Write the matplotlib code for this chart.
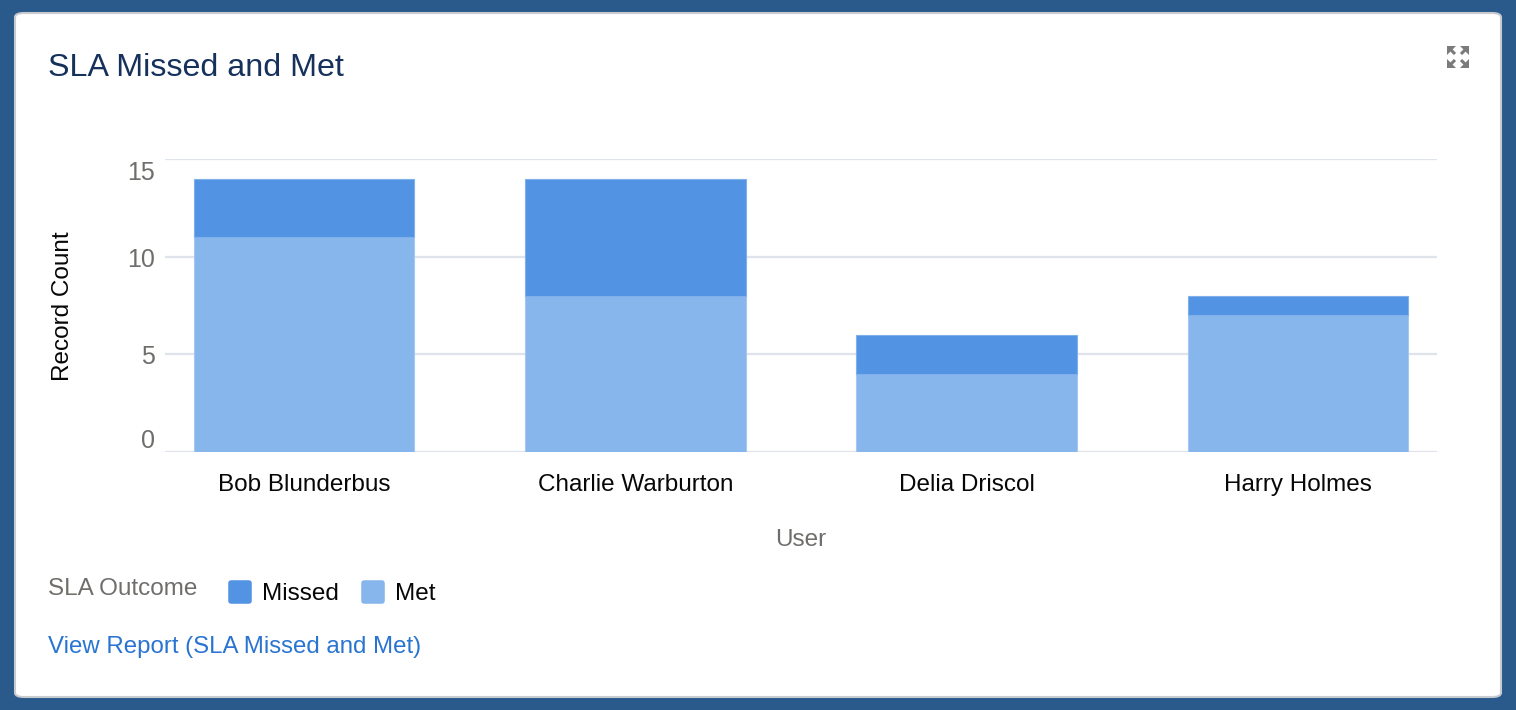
import matplotlib.pyplot as plt
import numpy as np
from matplotlib.patches import FancyBboxPatch, Polygon
from matplotlib.lines import Line2D
from matplotlib.markers import MarkerStyle
from matplotlib.transforms import ScaledTranslation

plt.rcParams['font.family'] = ['Liberation Sans', 'DejaVu Sans']

users = ['Bob Blunderbus', 'Charlie Warburton', 'Delia Driscol', 'Harry Holmes']
met = [11, 8, 4, 7]
missed = [3, 6, 2, 1]
y_ticks = [0, 5, 10, 15]

W, H = 1516, 710
fig = plt.figure(figsize=(W / 100, H / 100), dpi=100)
fig.patch.set_facecolor('#295a8b')


def fx(px):
    return px / W


def fy(py):
    return 1 - py / H


# white card
card = FancyBboxPatch((fx(15), fy(697)), fx(1501) - fx(15), fy(13) - fy(697),
                      boxstyle='round,pad=0,rounding_size=0.006',
                      transform=fig.transFigure, facecolor='white',
                      edgecolor='#c8cbd0', linewidth=1.5, zorder=0)
fig.add_artist(card)

ax = fig.add_axes([fx(165), fy(452), fx(1437) - fx(165), fy(159) - fy(452)])
ax.set_facecolor('none')

c_missed = '#5294e3'
c_met = '#87b6ec'
x = np.arange(len(users))
ax.bar(x, met, width=0.665, color=c_met, edgecolor='#a4c8f2', linewidth=0.8, zorder=2)
ax.bar(x, missed, bottom=met, width=0.665, color=c_missed, edgecolor='#7fb0ec',
       linewidth=0.8, zorder=2)

ax.set_xlim(-0.42, len(users) - 1 + 0.42)
ax.set_ylim(0, 15)
ax.set_yticks(y_ticks)
ax.set_yticklabels([str(v) for v in y_ticks])
ax.set_xticks(x)
ax.set_xticklabels(users)
ax.grid(axis='y', color='#dfe3ec', linewidth=1.6, zorder=0)
ax.set_axisbelow(True)
for s in ax.spines.values():
    s.set_visible(False)
ax.tick_params(axis='x', length=0, pad=15.5, labelsize=17.5, labelcolor='#080707')
ax.tick_params(axis='y', length=0, pad=7, labelsize=18, labelcolor='#706e6b')

# the y labels sit squeezed toward the middle, like the original
shifts = [13, 0, -1, -12]
for lab, dy in zip(ax.get_yticklabels(), shifts):
    lab.set_transform(lab.get_transform() + ScaledTranslation(0, dy / 100, fig.dpi_scale_trans))

fig.text(fx(63), fy(306), 'Record Count', rotation=90, ha='center', va='center',
         fontsize=17.5, color='#080707')
fig.text(fx(801), fy(540), 'User', ha='center', va='center', fontsize=17.5, color='#706e6b')

fig.text(fx(48), fy(76), 'SLA Missed and Met', ha='left', va='baseline',
         fontsize=23.2, color='#16325c')

# legend
fig.text(fx(48), fy(595), 'SLA Outcome', ha='left', va='baseline', fontsize=17.5,
         color='#706e6b')
handles = []
for lbl, col in [('Missed', c_missed), ('Met', c_met)]:
    ms = MarkerStyle('s', joinstyle='round')
    handles.append(Line2D([], [], linestyle='none', marker=ms, markersize=13,
                          markerfacecolor=col, markeredgecolor=col,
                          markeredgewidth=4, label=lbl))
leg = fig.legend(handles=handles, loc='center left',
                 bbox_to_anchor=(fx(228), fy(594)), ncol=2, frameon=False,
                 fontsize=17.5, handlelength=1.0, handletextpad=0.4,
                 columnspacing=0.9, borderpad=0, borderaxespad=0)
for t in leg.get_texts():
    t.set_color('#080707')

fig.text(fx(48), fy(653), 'View Report (SLA Missed and Met)', ha='left', va='baseline',
         fontsize=17.3, color='#2a74d1')

# expand icon: four arrowheads in the corners, shafts toward the middle
cx, cy, r = 1458, 57, 11
for dx, dy in [(-1, -1), (1, -1), (-1, 1), (1, 1)]:
    tip = (cx + r * dx, cy + r * dy)
    tri = Polygon([(fx(tip[0]), fy(tip[1])),
                   (fx(tip[0] - 9 * dx), fy(tip[1])),
                   (fx(tip[0]), fy(tip[1] - 9 * dy))],
                  closed=True, transform=fig.transFigure,
                  facecolor='#7b7b7b', edgecolor='none')
    fig.add_artist(tri)
    fig.add_artist(Line2D([fx(tip[0] - 3 * dx), fx(cx + 3 * dx)],
                          [fy(tip[1] - 3 * dy), fy(cy + 3 * dy)],
                          transform=fig.transFigure, color='#7b7b7b',
                          linewidth=2.2, solid_capstyle='butt'))

fig.savefig('out.png', dpi=100, facecolor=fig.get_facecolor())
